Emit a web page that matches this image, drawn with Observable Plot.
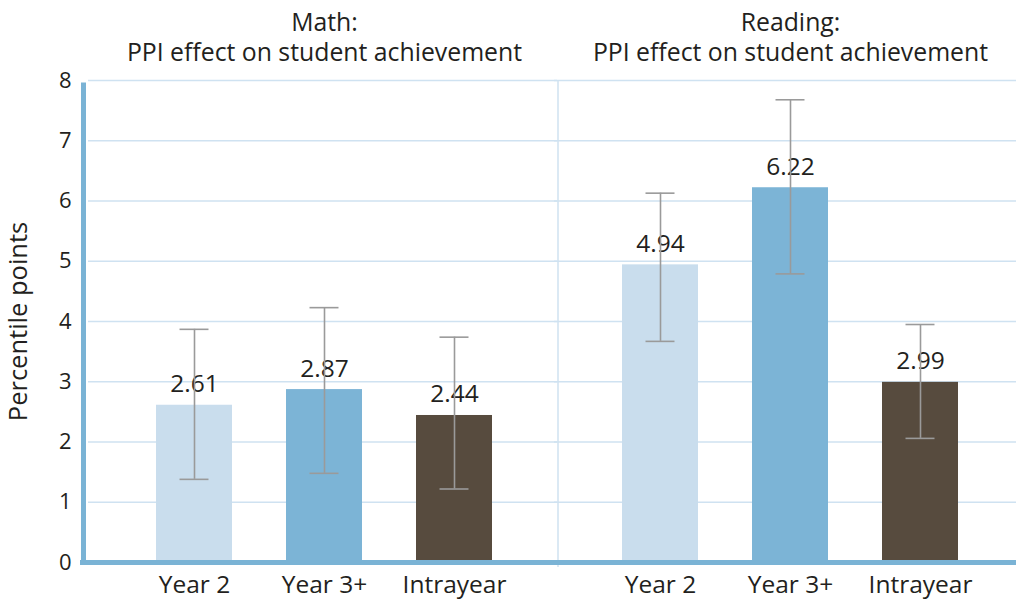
<!DOCTYPE html>
<html><head><meta charset="utf-8">
<script src="https://cdn.jsdelivr.net/npm/d3@7"></script>
<script src="https://cdn.jsdelivr.net/npm/@observablehq/plot@0.6"></script>
<style>body{margin:0;background:#fff} #chart svg{display:block}</style>
</head><body><div id="chart"></div>
<script>
const subjects = ["Math", "Reading"];
const subjectTitles = ["Math:\nPPI effect on student achievement", "Reading:\nPPI effect on student achievement"];
const categories = ["Year 2", "Year 3+", "Intrayear"];
const mathValues = [2.61, 2.87, 2.44];
const mathLow = [1.38, 1.48, 1.22];
const mathHigh = [3.87, 4.23, 3.74];
const readingValues = [4.94, 6.22, 2.99];
const readingLow = [3.67, 4.79, 2.06];
const readingHigh = [6.13, 7.68, 3.95];
const yTicks = [0, 1, 2, 3, 4, 5, 6, 7, 8];
const yLabel = "Percentile points";
const colors = ["#c9dded", "#7cb4d6", "#574b3e"];

const rows = [];
categories.forEach((c, i) => rows.push({subject: "Math", category: c, value: mathValues[i], low: mathLow[i], high: mathHigh[i]}));
categories.forEach((c, i) => rows.push({subject: "Reading", category: c, value: readingValues[i], low: readingLow[i], high: readingHigh[i]}));

const font = "'Open Sans', sans-serif";
const gridColor = "#cfe2f1";
const axisColor = "#7ab3d5";
const errColor = "#9a9a9a";

const plot = Plot.plot({
  width: 1016,
  height: 600,
  marginTop: 80,
  marginBottom: 38,
  marginLeft: 91,
  marginRight: -7,
  style: {fontFamily: font, color: "#231f20", background: "#fff"},
  fx: {domain: subjects, padding: 0},
  x: {domain: categories, paddingInner: 0.418, paddingOuter: 0.494},
  y: {domain: [0, 8]},
  color: {domain: categories, range: colors},
  marks: [
    Plot.ruleY(yTicks.slice(1), {stroke: gridColor, strokeWidth: 1.5, insetLeft: -3}),
    Plot.ruleX(["Reading"], {fx: d => d, x: () => categories[0], y1: 0, y2: 8, insetTop: 5, dx: -102.5, stroke: gridColor, strokeWidth: 1.5}),
    Plot.barY(rows, {fx: "subject", x: "category", y: "value", fill: "category"}),
    Plot.text(rows, {fx: "subject", x: "category", y: "value", text: d => d.value.toFixed(2), lineAnchor: "bottom", dy: -13, fontSize: 24.5, fill: "#231f20"}),
    Plot.ruleX(rows, {fx: "subject", x: "category", y1: "low", y2: "high", stroke: errColor, strokeWidth: 1.6}),
    Plot.tickY(rows, {fx: "subject", x: "category", y: "low", stroke: errColor, strokeWidth: 1.6, insetLeft: 23.5, insetRight: 23.5}),
    Plot.tickY(rows, {fx: "subject", x: "category", y: "high", stroke: errColor, strokeWidth: 1.6, insetLeft: 23.5, insetRight: 23.5}),
    Plot.ruleY([0], {stroke: axisColor, strokeWidth: 5, insetLeft: -11}),
    Plot.ruleX(["Math"], {fx: d => d, x: () => categories[0], y1: 0, y2: 8, dx: -111, insetBottom: -2.5, stroke: axisColor, strokeWidth: 5}),
    Plot.axisY(yTicks, {anchor: "left", tickSize: 0, tickPadding: 20, fontSize: 22, tickFormat: "d", label: null}),
    Plot.text([yLabel], {fx: () => "Math", frameAnchor: "left", textAnchor: "middle", rotate: -90, dx: -73, fontSize: 25.5, text: d => d}),
    Plot.axisX({anchor: "bottom", tickSize: 0, tickPadding: 13, fontSize: 24.5, label: null}),
    Plot.axisFx({anchor: "top", tickSize: 0, tickPadding: 20, fontSize: 24.8, lineHeight: 1.21, label: null,
      tickFormat: d => subjectTitles[subjects.indexOf(d)]})
  ]
});
document.getElementById("chart").appendChild(plot);
</script>
</body></html>
